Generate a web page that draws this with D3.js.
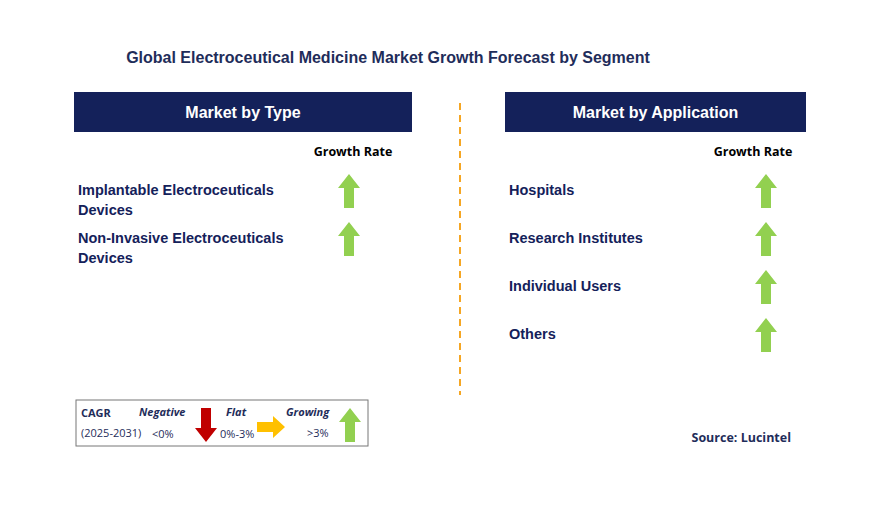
<!DOCTYPE html>
<html><head><meta charset="utf-8">
<script src="https://cdn.jsdelivr.net/npm/d3@7"></script>
<style>body{margin:0;background:#fff}</style>
</head><body>
<svg id="c" width="870" height="521"></svg>
<script>
var typeItems = [['Implantable Electroceuticals','Devices'], ['Non-Invasive Electroceuticals','Devices']];
var typeTrend = ['up','up'];
var appItems = [['Hospitals'], ['Research Institutes'], ['Individual Users'], ['Others']];
var appTrend = ['up','up','up','up'];

var svg = d3.select('#c'),
    navy = '#14215a', green = '#92d050';

svg.append('text').attr('x', 388).attr('y', 63).attr('text-anchor','middle')
  .attr('font-family','Liberation Sans, Arial').attr('font-weight','bold').attr('font-size',16)
  .attr('fill', '#1f2d5a').text('Global Electroceutical Medicine Market Growth Forecast by Segment');

// up arrow path centred at 0,0
var arrowUp = 'M0,-17 L11,-3 L5,-3 L5,17 L-5,17 L-5,-3 L-11,-3 Z';

var panel = function(x0, w, title, items, trend, arrowX, grX) {
  svg.append('rect').attr('x', x0).attr('y', 92).attr('width', w).attr('height', 40).attr('fill', navy);
  svg.append('text').attr('x', x0 + w/2).attr('y', 118).attr('text-anchor','middle')
    .attr('font-family','Liberation Sans, Arial').attr('font-weight','bold').attr('font-size',16)
    .attr('fill','#fff').text(title);
  svg.append('text').attr('x', grX).attr('y', 156).attr('text-anchor','middle')
    .attr('font-family','Open Sans, sans-serif').attr('font-weight','bold').attr('font-size',12.5)
    .attr('fill','#000').text('Growth Rate');

  var y = d3.scaleBand().domain(d3.range(items.length)).range([166, 166 + 48*items.length]);
  var g = svg.selectAll(null).data(items).enter().append('g')
    .attr('transform', function(d,i) { return 'translate(0,' + (y(i) + y.bandwidth()/2) + ')'; });
  g.append('text').attr('x', x0 + 4).attr('y', 5)
    .attr('font-family','Liberation Sans, Arial').attr('font-weight','bold').attr('font-size',14.5)
    .attr('fill', navy)
    .selectAll('tspan').data(function(d) { return d; }).enter().append('tspan')
    .attr('x', x0 + 4).attr('dy', function(d,i) { return i ? 20 : 0; }).text(function(d) { return d; });
  g.append('path').attr('d', arrowUp).attr('transform', 'translate(' + arrowX + ',1)')
    .attr('fill', function(d,i) { return trend[i] === 'up' ? green : '#c00000'; });
};

panel(74, 338, 'Market by Type', typeItems, typeTrend, 349, 353);
panel(505, 301, 'Market by Application', appItems, appTrend, 766, 753);

svg.append('line').attr('x1', 460).attr('x2', 460).attr('y1', 103).attr('y2', 395)
  .attr('stroke', '#f5a623').attr('stroke-width', 2).attr('stroke-dasharray', '7,5');

// legend
var lg = svg.append('g');
lg.append('rect').attr('x', 76).attr('y', 400).attr('width', 292).attr('height', 46)
  .attr('fill','#fff').attr('stroke','#777').attr('stroke-width',1);
var lt = function(x, y, t, italic, bold) {
  lg.append('text').attr('x', x).attr('y', y).attr('font-family','Open Sans, sans-serif')
    .attr('font-size', 11).attr('font-weight', bold ? 'bold' : 'normal')
    .attr('font-style', italic ? 'italic' : 'normal').attr('fill', '#1f2d5a').text(t);
};
lt(81, 417, 'CAGR', false, true);
lt(81, 437, '(2025-2031)', false, false);
lt(139, 416, 'Negative', true, true);
lt(152, 438, '<0%', false, false);
lt(226, 416, 'Flat', true, true);
lt(220, 438, '0%-3%', false, false);
lt(286, 416, 'Growing', true, true);
lt(307, 437, '>3%', false, false);
lg.append('path').attr('d', 'M-5,-17 L5,-17 L5,3 L11,3 L0,17 L-11,3 L-5,3 Z')
  .attr('transform','translate(206,425)').attr('fill','#c00000');
lg.append('path').attr('d', 'M-14,-5 L2,-5 L2,-11 L14,0 L2,11 L2,5 L-14,5 Z')
  .attr('transform','translate(271,427)').attr('fill','#ffc000');
lg.append('path').attr('d', arrowUp).attr('transform','translate(350,425)').attr('fill', green);

svg.append('text').attr('x', 791).attr('y', 442).attr('text-anchor','end')
  .attr('font-family','Open Sans, sans-serif').attr('font-weight','bold').attr('font-size',12.5)
  .attr('fill','#1f2d5a').text('Source: Lucintel');
</script>
</body></html>
